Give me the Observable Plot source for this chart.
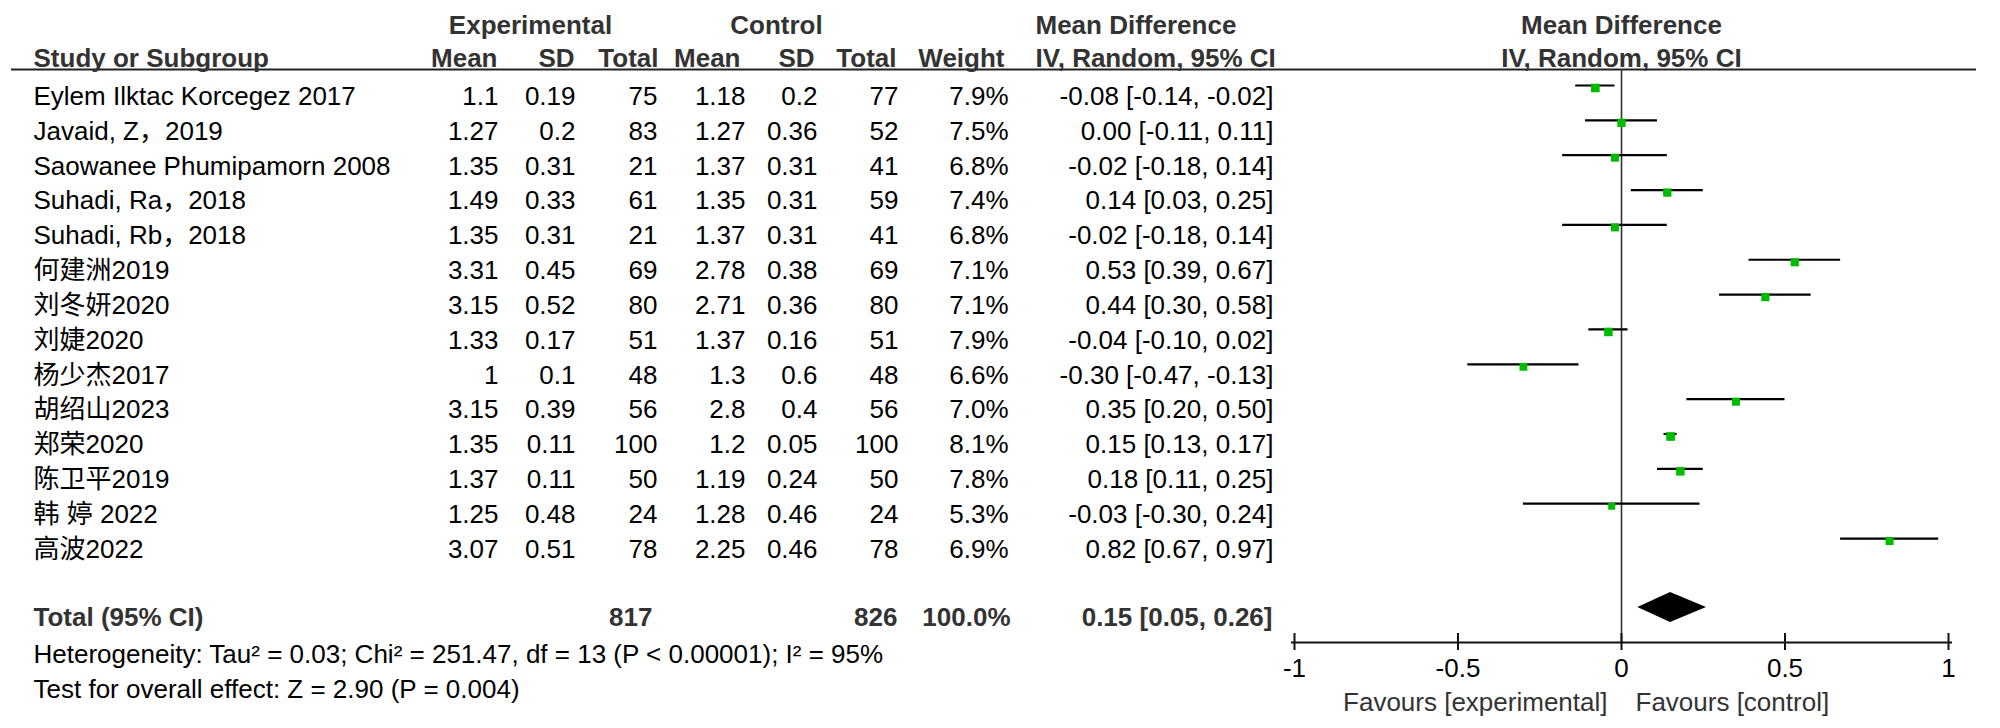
<!DOCTYPE html>
<html>
<head>
<meta charset="utf-8">
<script src="https://cdn.jsdelivr.net/npm/d3@7"></script>
<script src="https://cdn.jsdelivr.net/npm/@observablehq/plot@0.6"></script>
<style>
  html, body { margin: 0; padding: 0; background: #fff; }
</style>
</head>
<body>
<div id="chart"></div>
<script>
// ---------- data ----------
const studies = ["Eylem Ilktac Korcegez 2017", "Javaid, Z，2019", "Saowanee Phumipamorn 2008", "Suhadi, Ra，2018", "Suhadi, Rb，2018", "何建洲2019", "刘冬妍2020", "刘婕2020", "杨少杰2017", "胡绍山2023", "郑荣2020", "陈卫平2019", "韩 婷 2022", "高波2022"];
const expMean  = [1.1, 1.27, 1.35, 1.49, 1.35, 3.31, 3.15, 1.33, 1, 3.15, 1.35, 1.37, 1.25, 3.07];
const expSD    = [0.19, 0.2, 0.31, 0.33, 0.31, 0.45, 0.52, 0.17, 0.1, 0.39, 0.11, 0.11, 0.48, 0.51];
const expTotal = [75, 83, 21, 61, 21, 69, 80, 51, 48, 56, 100, 50, 24, 78];
const ctlMean  = [1.18, 1.27, 1.37, 1.35, 1.37, 2.78, 2.71, 1.37, 1.3, 2.8, 1.2, 1.19, 1.28, 2.25];
const ctlSD    = [0.2, 0.36, 0.31, 0.31, 0.31, 0.38, 0.36, 0.16, 0.6, 0.4, 0.05, 0.24, 0.46, 0.46];
const ctlTotal = [77, 52, 41, 59, 41, 69, 80, 51, 48, 56, 100, 50, 24, 78];
const weight   = [7.9, 7.5, 6.8, 7.4, 6.8, 7.1, 7.1, 7.9, 6.6, 7.0, 8.1, 7.8, 5.3, 6.9];
const md       = [-0.08, 0.00, -0.02, 0.14, -0.02, 0.53, 0.44, -0.04, -0.30, 0.35, 0.15, 0.18, -0.03, 0.82];
const ciLow    = [-0.14, -0.11, -0.18, 0.03, -0.18, 0.39, 0.30, -0.10, -0.47, 0.20, 0.13, 0.11, -0.30, 0.67];
const ciHigh   = [-0.02, 0.11, 0.14, 0.25, 0.14, 0.67, 0.58, 0.02, -0.13, 0.50, 0.17, 0.25, 0.24, 0.97];

const totalExp = 817, totalCtl = 826, totalWeight = 100.0;
const totalMD = 0.15, totalLow = 0.05, totalHigh = 0.26;
const heterogeneityText = "Heterogeneity: Tau² = 0.03; Chi² = 251.47, df = 13 (P < 0.00001); I² = 95%";
const overallText = "Test for overall effect: Z = 2.90 (P = 0.004)";
const xTicks = [-1, -0.5, 0, 0.5, 1];
const favLeft = "Favours [experimental]", favRight = "Favours [control]";

// ---------- layout ----------
const W = 2000, H = 728;
const L = 1294, R = 1948;          // forest plot frame (x = -1 .. 1)
const TOP = 25, BOTTOM = 642;      // frame top / axis line
const row0 = 96, rowH = 34.85;     // first study row centre and row pitch
const toRow = p => (p - row0) / rowH;
const FS = 26;
const FONT = "'Liberation Sans', Arial, 'Noto Sans CJK SC', sans-serif";
const GREEN = "#00bb00";
const HEAD = "#333";

const rows = studies.map((s, i) => ({
  i, study: s, em: expMean[i], es: expSD[i], en: expTotal[i],
  cm: ctlMean[i], cs: ctlSD[i], cn: ctlTotal[i], w: weight[i],
  md: md[i], lo: ciLow[i], hi: ciHigh[i]
}));
const fmt2 = v => v.toFixed(2);
const ciText = (m, l, h) => `${fmt2(m)} [${fmt2(l)}, ${fmt2(h)}]`;

function col(text, rightPx, extra = {}) {
  return Plot.text(rows, {y: "i", text, frameAnchor: "left", dx: rightPx - L, textAnchor: "end", fontSize: FS, fill: "#000", ...extra});
}
function label(str, yPx, xPx, anchor, extra = {}) {
  return Plot.text([str], {y: () => toRow(yPx), text: d => d, frameAnchor: "left", dx: xPx - L, textAnchor: anchor, fontSize: FS, ...extra});
}
const bold = {fontWeight: "bold", fill: HEAD};

const yc = toRow(607), dh = 15 / rowH;
const diamond = [
  {x: totalLow, y1: yc, y2: yc},
  {x: totalMD, y1: yc - dh, y2: yc + dh},
  {x: totalHigh, y1: yc, y2: yc}
];

const chart = Plot.plot({
  width: W, height: H,
  marginLeft: L, marginRight: W - R, marginTop: TOP, marginBottom: H - BOTTOM,
  style: {fontFamily: FONT, background: "#fff", color: "#000", overflow: "visible"},
  x: {domain: [-1, 1]},
  y: {domain: [toRow(TOP), toRow(BOTTOM)], range: [TOP, BOTTOM], axis: null},
  r: {range: [0, 4.9]},
  marks: [
    // header lines
    Plot.ruleY([toRow(69)], {insetLeft: -(L - 11), insetRight: -(1976 - R), stroke: "#222", strokeWidth: 2}),
    Plot.ruleX([0], {y1: toRow(69), y2: toRow(BOTTOM), stroke: "#333", strokeWidth: 1.6}),
    // axis
    Plot.ruleY([toRow(BOTTOM)], {x1: -1, x2: 1, insetLeft: -3, insetRight: -4, stroke: "#111", strokeWidth: 2.2}),
    Plot.ruleX(xTicks, {x: d => d, y1: toRow(633), y2: toRow(BOTTOM), stroke: "#111", strokeWidth: 2}),
    Plot.axisX({ticks: xTicks, tickSize: 8, tickPadding: 8, tickFormat: d => String(d), fontSize: FS, strokeWidth: 2, stroke: "#111"}),
    // study CIs and squares
    Plot.ruleY(rows, {y: "i", x1: "lo", x2: "hi", dy: -11, stroke: "#000", strokeWidth: 2.2}),
    Plot.dot(rows, {x: "md", y: "i", r: "w", symbol: "square", fill: GREEN, stroke: "none", dy: -8.5}),
    // pooled diamond
    Plot.areaY(diamond, {x: "x", y1: "y1", y2: "y2", fill: "#000"}),
    // headers
    label("Experimental", 25, 530, "middle", bold),
    label("Control", 25, 776, "middle", bold),
    label("Mean Difference", 25, 1035, "start", bold),
    Plot.text(["Mean Difference"], {x: () => 0, y: () => toRow(25), text: d => d, fontSize: FS, ...bold}),
    label("Study or Subgroup", 58, 33, "start", bold),
    label("Mean", 58, 497, "end", bold),
    label("SD", 58, 574, "end", bold),
    label("Total", 58, 658, "end", bold),
    label("Mean", 58, 740, "end", bold),
    label("SD", 58, 814, "end", bold),
    label("Total", 58, 896, "end", bold),
    label("Weight", 58, 1004, "end", bold),
    label("IV, Random, 95% CI", 58, 1035, "start", bold),
    Plot.text(["IV, Random, 95% CI"], {x: () => 0, y: () => toRow(58), text: d => d, fontSize: FS, ...bold}),
    // table body
    Plot.text(rows, {y: "i", text: "study", frameAnchor: "left", dx: 33 - L, textAnchor: "start", fontSize: FS, fill: "#000"}),
    col(d => String(d.em), 498),
    col(d => String(d.es), 575),
    col(d => String(d.en), 657),
    col(d => String(d.cm), 745),
    col(d => String(d.cs), 817),
    col(d => String(d.cn), 898),
    col(d => d.w.toFixed(1) + "%", 1008),
    col(d => ciText(d.md, d.lo, d.hi), 1273),
    // total row
    label("Total (95% CI)", 617, 33, "start", bold),
    label(String(totalExp), 617, 652, "end", bold),
    label(String(totalCtl), 617, 897, "end", bold),
    label(totalWeight.toFixed(1) + "%", 617, 1010, "end", bold),
    label(ciText(totalMD, totalLow, totalHigh), 617, 1272, "end", bold),
    label(heterogeneityText, 654, 33, "start", {fill: "#000"}),
    label(overallText, 689, 33, "start", {fill: "#000"}),
    // favours labels
    Plot.text([favLeft], {x: () => 0, y: () => toRow(702), text: d => d, dx: -14, textAnchor: "end", fontSize: FS, fill: "#333"}),
    Plot.text([favRight], {x: () => 0, y: () => toRow(702), text: d => d, dx: 14, textAnchor: "start", fontSize: FS, fill: "#333"})
  ]
});
document.getElementById("chart").appendChild(chart);
</script>
</body>
</html>
